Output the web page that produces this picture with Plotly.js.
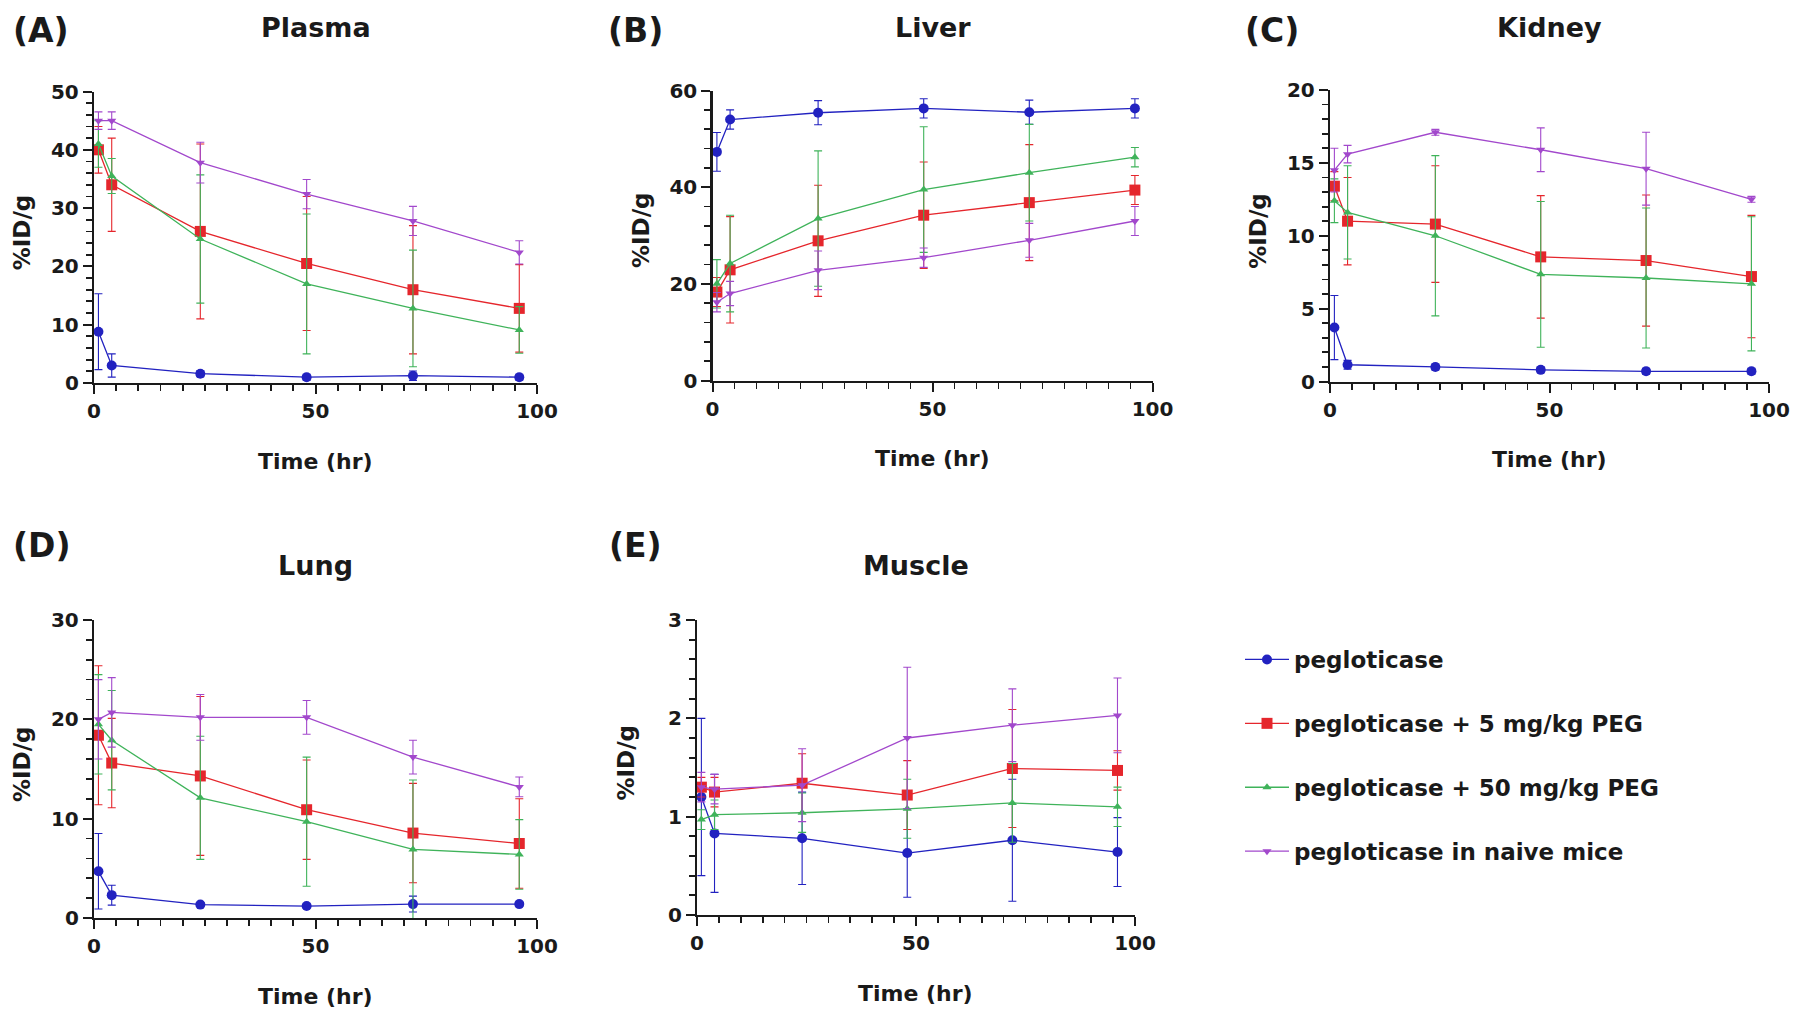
<!DOCTYPE html>
<html><head><meta charset="utf-8">
<script src="https://cdn.plot.ly/plotly-3.0.1.min.js"></script>
<style>html,body{margin:0;padding:0;background:#fff}#chart{width:1800px;height:1022px}</style>
</head><body><div id="chart"></div>
<script>
// ---- data ----
const timeHr = [1, 4, 24, 48, 72, 96];
const seriesNames = ["pegloticase", "pegloticase + 5 mg/kg PEG", "pegloticase + 50 mg/kg PEG", "pegloticase in naive mice"];
const panelTitles = ["Plasma", "Liver", "Kidney", "Lung", "Muscle"];
const panelLetters = ["(A)", "(B)", "(C)", "(D)", "(E)"];
const xTitle = "Time (hr)";
const yTitle = "%ID/g";

// Plasma
const plasmaPeg    = [8.8, 3.0, 1.6, 1.0, 1.25, 1.0];
const plasmaPegSD  = [6.5, 2.0, 0.5, 0.5, 0.8, 0.5];
const plasma5      = [40, 34, 26, 20.5, 16, 12.8];
const plasma5SD    = [4, 8, 15, 11.5, 11, 7.5];
const plasma50     = [41, 35.5, 24.7, 17, 12.8, 9.1];
const plasma50SD   = [4, 3, 11, 12, 10, 4];
const plasmaNaive  = [45, 45, 37.8, 32.4, 27.8, 22.4];
const plasmaNaiveSD= [1.5, 1.5, 3.5, 2.5, 2.5, 2];
// Liver
const liverPeg     = [47.3, 54, 55.4, 56.3, 55.5, 56.3];
const liverPegSD   = [4, 2, 2.5, 2, 2.5, 2];
const liver5       = [18.3, 22.9, 28.9, 34.2, 36.8, 39.4];
const liver5SD     = [3, 11, 11.5, 11, 12, 3];
const liver50      = [20, 24.2, 33.5, 39.5, 43, 46.2];
const liver50SD    = [5, 10, 14, 13, 10, 2];
const liverNaive   = [16.2, 18, 22.8, 25.4, 29, 33];
const liverNaiveSD = [2, 2.5, 4, 2, 3.5, 3];
// Kidney
const kidneyPeg    = [3.7, 1.15, 1.0, 0.8, 0.7, 0.7];
const kidneyPegSD  = [2.2, 0.3, 0.2, 0.2, 0.2, 0.2];
const kidney5      = [13.4, 11.0, 10.8, 8.55, 8.3, 7.2];
const kidney5SD    = [1, 3, 4, 4.2, 4.5, 4.2];
const kidney50     = [12.4, 11.6, 10.0, 7.35, 7.1, 6.7];
const kidney50SD   = [1.5, 3.2, 5.5, 5, 4.8, 4.6];
const kidneyNaive  = [14.5, 15.6, 17.1, 15.9, 14.6, 12.5];
const kidneyNaiveSD= [1.5, 0.6, 0.2, 1.5, 2.5, 0.2];
// Lung
const lungPeg      = [4.7, 2.3, 1.35, 1.2, 1.4, 1.4];
const lungPegSD    = [3.8, 1, 0.2, 0.2, 0.8, 0.2];
const lung5        = [18.4, 15.6, 14.3, 10.9, 8.55, 7.5];
const lung5SD      = [7, 4.5, 8, 5, 5, 4.5];
const lung50       = [19.5, 17.9, 12.1, 9.7, 6.9, 6.4];
const lung50SD     = [5, 5, 6.2, 6.5, 7, 3.5];
const lungNaive    = [20, 20.7, 20.2, 20.2, 16.2, 13.2];
const lungNaiveSD  = [4, 3.5, 2.3, 1.7, 1.7, 1];
// Muscle
const musclePeg    = [1.2, 0.83, 0.78, 0.63, 0.76, 0.64];
const musclePegSD  = [0.8, 0.6, 0.47, 0.45, 0.62, 0.35];
const muscle5      = [1.3, 1.25, 1.34, 1.22, 1.49, 1.47];
const muscle5SD    = [0.1, 0.15, 0.3, 0.35, 0.6, 0.2];
const muscle50     = [0.97, 1.02, 1.04, 1.08, 1.14, 1.1];
const muscle50SD   = [0.1, 0.15, 0.2, 0.3, 0.4, 0.2];
const muscleNaive  = [1.3, 1.28, 1.32, 1.8, 1.93, 2.03];
const muscleNaiveSD= [0.15, 0.15, 0.37, 0.72, 0.37, 0.38];

// ---- styling ----
const W = 1800, H = 1022;
const FONT = "DejaVu Sans";
const INK = "#1a1a1a";
const colors = ["#2222c0", "#e5262c", "#3fb35a", "#a248cc"];
const symbols = ["circle", "square", "triangle-up", "triangle-down"];
const msizes = [10, 11, 8, 8];

// box: [left, right, top, bottom] in px; letter: [x, y]; titleY in px
const panels = [
  {vals:[plasmaPeg,plasma5,plasma50,plasmaNaive], sds:[plasmaPegSD,plasma5SD,plasma50SD,plasmaNaiveSD], box:[94,537,91.5,383], yr:[0,50], dt:10, mdt:2, letter:[11,30], titleY:27},
  {vals:[liverPeg,liver5,liver50,liverNaive], sds:[liverPegSD,liver5SD,liver50SD,liverNaiveSD], box:[712.5,1152.5,90.5,380.5], yr:[0,60], dt:20, mdt:4, letter:[606,30], titleY:27},
  {vals:[kidneyPeg,kidney5,kidney50,kidneyNaive], sds:[kidneyPegSD,kidney5SD,kidney50SD,kidneyNaiveSD], box:[1330,1769,90,381.5], yr:[0,20], dt:5, mdt:1, letter:[1243,30], titleY:27},
  {vals:[lungPeg,lung5,lung50,lungNaive], sds:[lungPegSD,lung5SD,lung50SD,lungNaiveSD], box:[94,537,620,918], yr:[0,30], dt:10, mdt:2, letter:[11,545], titleY:565},
  {vals:[musclePeg,muscle5,muscle50,muscleNaive], sds:[musclePegSD,muscle5SD,muscle50SD,muscleNaiveSD], box:[697,1135,620,915], yr:[0,3], dt:1, mdt:0.2, letter:[607,545], titleY:565}
];

const traces = [];
const layout = {
  width: W, height: H, margin:{l:0,r:0,t:0,b:0},
  paper_bgcolor:"#fff", plot_bgcolor:"rgba(0,0,0,0)",
  font:{family:FONT, color:INK, weight:"bold"},
  showlegend:true,
  legend:{x:1240/W, y:1-638/H, xanchor:"left", yanchor:"top",
          font:{family:FONT, size:23, color:INK, weight:"bold"},
          traceorder:"grouped", tracegroupgap:31, bgcolor:"rgba(0,0,0,0)", itemwidth:44},
  annotations:[]
};

panels.forEach((p, i) => {
  const n = i + 1;
  const xa = n === 1 ? "x" : "x" + n, ya = n === 1 ? "y" : "y" + n;
  const [x0, x1, yTop, yBot] = p.box;
  p.vals.forEach((v, s) => {
    traces.push({
      type:"scatter", mode:"lines+markers", x:timeHr, y:v, xaxis:xa, yaxis:ya,
      name:seriesNames[s], legendgroup:seriesNames[s], showlegend:i===0,
      line:{color:colors[s], width:1.3},
      marker:{color:colors[s], symbol:symbols[s], size:msizes[s]},
      error_y:{type:"data", array:p.sds[s], visible:true, color:colors[s], thickness:1.1, width:4},
      cliponaxis:false
    });
  });
  const axFont = {family:FONT, size:20, color:INK, weight:"bold"};
  layout["xaxis" + (n===1?"":n)] = {
    domain:[x0/W, x1/W], anchor:ya, range:[0,100], dtick:50, tick0:0,
    ticks:"outside", ticklen:9, tickwidth:2, tickcolor:INK,
    minor:{dtick:5, ticks:"outside", ticklen:6, tickwidth:1.8, tickcolor:INK},
    showline:true, linewidth:2.2, linecolor:INK, showgrid:false, zeroline:false,
    tickfont:axFont, fixedrange:true
  };
  layout["yaxis" + (n===1?"":n)] = {
    domain:[1-yBot/H, 1-yTop/H], anchor:xa, range:p.yr, dtick:p.dt, tick0:0,
    ticks:"outside", ticklen:9, tickwidth:2, tickcolor:INK,
    minor:{dtick:p.mdt, ticks:"outside", ticklen:6, tickwidth:1.8, tickcolor:INK},
    showline:true, linewidth:2.2, linecolor:INK, showgrid:false, zeroline:false,
    tickfont:axFont, fixedrange:true
  };
  const cx = (x0 + x1) / 2;
  layout.annotations.push(
    {text:"<b>" + panelLetters[i] + "</b>", x:p.letter[0]/W, y:1-p.letter[1]/H, xref:"paper", yref:"paper",
     xanchor:"left", yanchor:"middle", showarrow:false, font:{family:FONT, size:33, color:INK}},
    {text:"<b>" + panelTitles[i] + "</b>", x:cx/W, y:1-p.titleY/H, xref:"paper", yref:"paper",
     xanchor:"center", yanchor:"middle", showarrow:false, font:{family:FONT, size:27, color:INK}},
    {text:"<b>" + xTitle + "</b>", x:cx/W, y:1-(yBot+78)/H, xref:"paper", yref:"paper",
     xanchor:"center", yanchor:"middle", showarrow:false, font:{family:FONT, size:22, color:INK}},
    {text:"<b>" + yTitle + "</b>", x:(x0-72)/W, y:1-((yTop+yBot)/2-5)/H, xref:"paper", yref:"paper",
     xanchor:"center", yanchor:"middle", textangle:-90, showarrow:false, font:{family:FONT, size:23, color:INK}}
  );
});

Plotly.newPlot("chart", traces, layout, {staticPlot:true, displayModeBar:false});
</script></body></html>
